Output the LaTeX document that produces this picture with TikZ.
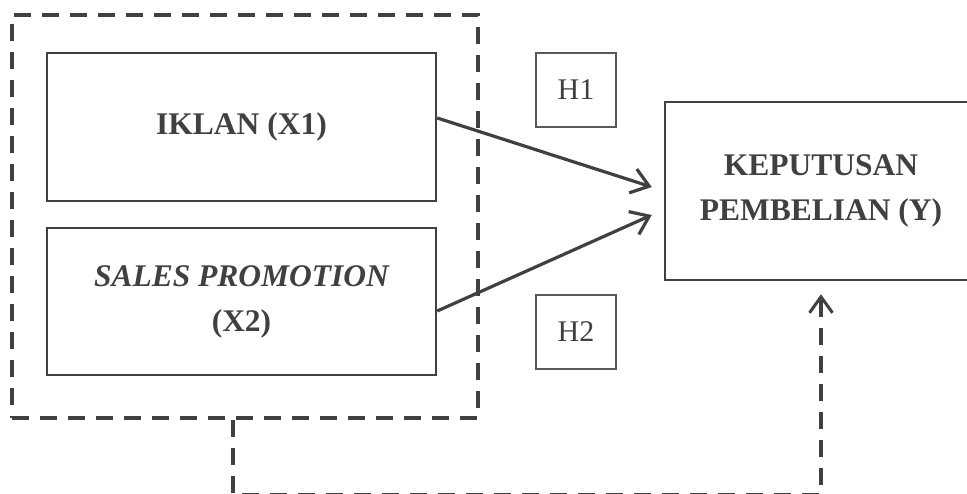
\documentclass[tikz,border=0pt]{standalone}
\usepackage{fontspec}
\setmainfont{Liberation Serif}
\usetikzlibrary{arrows.meta}
\definecolor{ink}{HTML}{404040}
\definecolor{thin}{HTML}{5A5A5A}
\tikzset{
  varbox/.style={draw=ink, line width=2.5pt, text=ink, align=center,
    font=\fontsize{31.5}{45}\selectfont\bfseries, inner sep=0pt},
  hypbox/.style={draw=thin, line width=1.2pt, text=ink, inner sep=0pt,
    minimum width=80pt, minimum height=74pt,
    font=\fontsize{30}{36}\selectfont},
  groupbox/.style={draw=ink, line width=3.5pt, dash pattern=on 17pt off 11pt,
    inner sep=0pt},
  link/.style={draw=ink, line width=3.2pt,
    -{Straight Barb[length=17pt,width=25pt,line width=3.2pt]}},
  dlink/.style={draw=ink, line width=3.5pt, dash pattern=on 17pt off 11pt,
    -{Straight Barb[length=16pt,width=23pt,line width=3pt]}}
}
\begin{document}
\begin{tikzpicture}[x=1pt,y=-1pt]
\useasboundingbox (0,0) rectangle (967,494);

% independent variables, grouped
\node[groupbox, minimum width=466pt, minimum height=403pt] (grp) at (245,216.5) {};
\node[varbox, minimum width=389pt, minimum height=148pt] (iklan) at (241.5,127) {IKLAN (X1)};
\node[varbox, minimum width=389pt, minimum height=147pt] (sales) at (241.5,301.5)
  {\itshape SALES PROMOTION\\(X2)};

% dependent variable
\node[varbox, minimum width=312pt, minimum height=178pt] (kep) at (821,191)
  {KEPUTUSAN\\PEMBELIAN (Y)};

% hypotheses
\node[hypbox] (h1) at (576,90) {H1};
\node[hypbox] (h2) at (576,332) {H2};

% partial effects
\draw[link] ([yshift=9pt]iklan.east) -- ([xshift=-12pt,yshift=4pt]kep.west);
\draw[link] ([yshift=-9.5pt]sales.east) -- ([xshift=-12pt,yshift=-24pt]kep.west);

% simultaneous effect
\coordinate (c1) at ([xshift=-12pt]grp.south |- 0,494.5);
\coordinate (c2) at (kep.south |- 0,494.5);
\draw[dlink] ([xshift=-12pt]grp.south) -- (c1) -- (c2) -- ([yshift=-13pt]kep.south);
\end{tikzpicture}
\end{document}
